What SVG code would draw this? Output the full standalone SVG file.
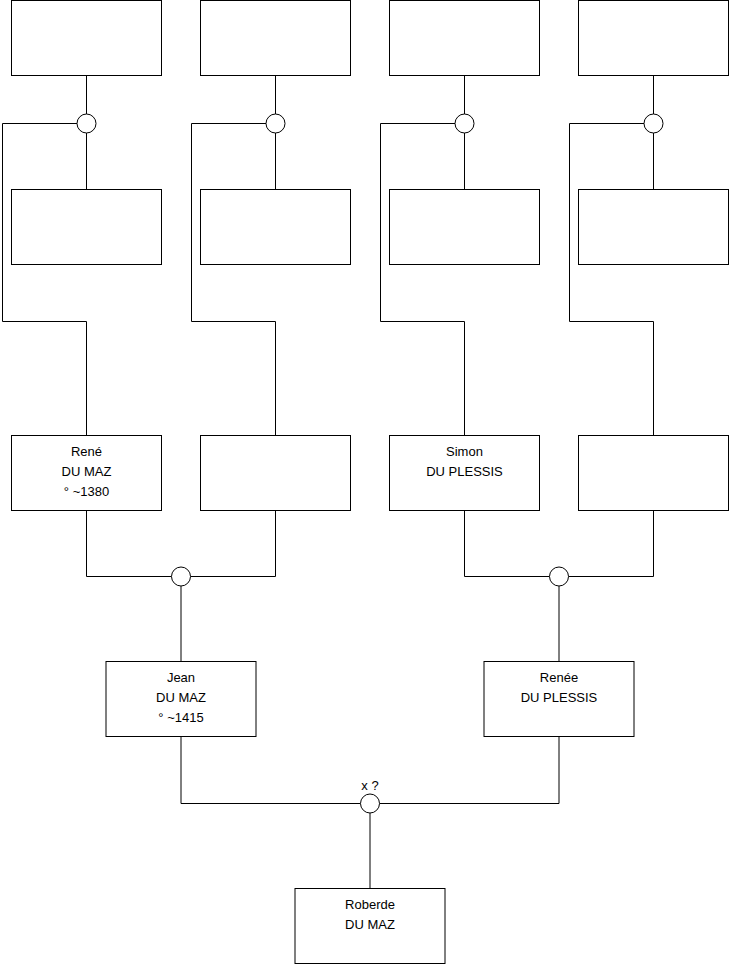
<svg xmlns="http://www.w3.org/2000/svg" width="740" height="975" viewBox="0 0 740 975">
<style>
.box{fill:#fff;stroke:#000;stroke-width:1}
.ring{fill:#fff;stroke:#000;stroke-width:1}
.wire{fill:none;stroke:#000;stroke-width:1}
text{font-family:"Liberation Sans",Arial,sans-serif;font-size:13px;fill:#000;text-anchor:middle}
</style>
<rect width="740" height="975" fill="#fff"/>
<g id="connectors">
<path class="wire" d="M86.5 75.5V114M86.5 133V189.5M77 123.5H2.5V321.5H86.5V435.5"/>
<path class="wire" d="M275.5 75.5V114M275.5 133V189.5M266 123.5H191.5V321.5H275.5V435.5"/>
<path class="wire" d="M464.5 75.5V114M464.5 133V189.5M455 123.5H380.5V321.5H464.5V435.5"/>
<path class="wire" d="M653.5 75.5V114M653.5 133V189.5M644 123.5H569.5V321.5H653.5V435.5"/>
<path class="wire" d="M86.5 510.5V576.5H171.5M275.5 510.5V576.5H190.5M181 586V661.5"/>
<path class="wire" d="M464.5 510.5V576.5H549.5M653.5 510.5V576.5H568.5M559 586V661.5"/>
<path class="wire" d="M181 736.5V803.5H360.5M559 736.5V803.5H379.5M370 813V888.5"/>
</g>
<g id="m1"><circle class="ring" cx="86.5" cy="123.5" r="9.5"/></g>
<g id="m2"><circle class="ring" cx="275.5" cy="123.5" r="9.5"/></g>
<g id="m3"><circle class="ring" cx="464.5" cy="123.5" r="9.5"/></g>
<g id="m4"><circle class="ring" cx="653.5" cy="123.5" r="9.5"/></g>
<g id="m5"><circle class="ring" cx="181" cy="576.5" r="9.5"/></g>
<g id="m6"><circle class="ring" cx="559" cy="576.5" r="9.5"/></g>
<g id="m7"><circle class="ring" cx="370" cy="803.5" r="9.5"/><text x="370" y="790">x ?</text></g>
<g id="p1"><rect class="box" x="11.5" y="0.5" width="150" height="75"/></g>
<g id="p2"><rect class="box" x="200.5" y="0.5" width="150" height="75"/></g>
<g id="p3"><rect class="box" x="389.5" y="0.5" width="150" height="75"/></g>
<g id="p4"><rect class="box" x="578.5" y="0.5" width="150" height="75"/></g>
<g id="p5"><rect class="box" x="11.5" y="189.5" width="150" height="75"/></g>
<g id="p6"><rect class="box" x="200.5" y="189.5" width="150" height="75"/></g>
<g id="p7"><rect class="box" x="389.5" y="189.5" width="150" height="75"/></g>
<g id="p8"><rect class="box" x="578.5" y="189.5" width="150" height="75"/></g>
<g id="rene"><rect class="box" x="11.5" y="435.5" width="150" height="75"/>
<text x="86.5" y="456">René</text><text x="86.5" y="476">DU MAZ</text><text x="86.5" y="496">° ~1380</text></g>
<g id="p10"><rect class="box" x="200.5" y="435.5" width="150" height="75"/></g>
<g id="simon"><rect class="box" x="389.5" y="435.5" width="150" height="75"/>
<text x="464.5" y="456">Simon</text><text x="464.5" y="476">DU PLESSIS</text></g>
<g id="p12"><rect class="box" x="578.5" y="435.5" width="150" height="75"/></g>
<g id="jean"><rect class="box" x="106" y="661.5" width="150" height="75"/>
<text x="181" y="682">Jean</text><text x="181" y="702">DU MAZ</text><text x="181" y="722">° ~1415</text></g>
<g id="renee"><rect class="box" x="484" y="661.5" width="150" height="75"/>
<text x="559" y="682">Renée</text><text x="559" y="702">DU PLESSIS</text></g>
<g id="roberde"><rect class="box" x="295" y="888.5" width="150" height="75"/>
<text x="370" y="909">Roberde</text><text x="370" y="929">DU MAZ</text></g>
</svg>
